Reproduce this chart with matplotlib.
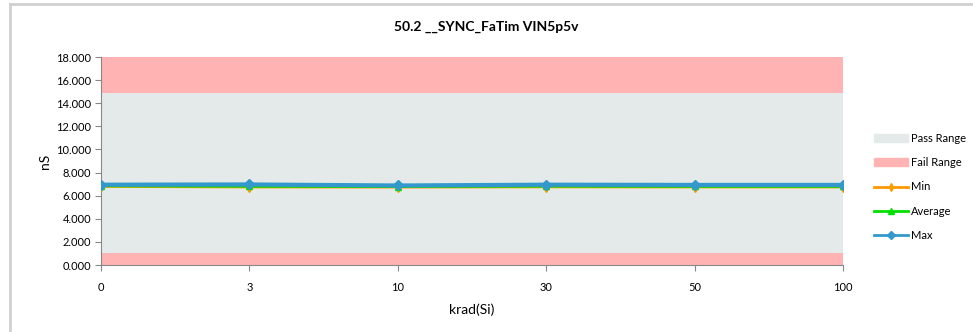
import matplotlib.pyplot as plt
from matplotlib.patches import Patch
from matplotlib.lines import Line2D

plt.rcParams['font.family'] = ['Lato', 'DejaVu Sans']

doses = ['0', '3', '10', '30', '50', '100']
min_vals = [6.80, 6.75, 6.74, 6.76, 6.75, 6.75]
avg_vals = [6.85, 6.81, 6.79, 6.82, 6.80, 6.80]
max_vals = [6.95, 6.97, 6.88, 6.95, 6.93, 6.93]
fail_low = 1.0
fail_high = 14.85
y_top = 18.0

pass_color = '#e4eaea'
fail_color = '#ffb3b3'

fig = plt.figure(figsize=(9.73, 3.32), dpi=100)
ax = fig.add_axes([101 / 973, 1 - 265 / 332, 742 / 973, 208 / 332])

# background bands
ax.axhspan(0, fail_low, color=fail_color, lw=0)
ax.axhspan(fail_low, fail_high, color=pass_color, lw=0)
ax.axhspan(fail_high, y_top, color=fail_color, lw=0)

x = range(len(doses))
ax.plot(x, min_vals, color='#ff9900', lw=2, marker='d', ms=5, zorder=3)
ax.plot(x, avg_vals, color='#00e000', lw=2, marker='^', ms=5, zorder=4)
ax.plot(x, max_vals, color='#3399cc', lw=3, marker='D', ms=5, zorder=5)

ax.set_xlim(0, len(doses) - 1)
ax.set_ylim(0, y_top)
ax.set_xticks(list(x))
ax.set_xticklabels(doses)
ax.set_yticks([i * 2 for i in range(10)])
ax.set_yticklabels(['%.3f' % (i * 2) for i in range(10)])
ax.tick_params(labelsize=8, color='#888888', length=4, pad=3)
ax.tick_params(axis='x', pad=8)
for side in ['top', 'right']:
    ax.spines[side].set_visible(False)
for side in ['left', 'bottom']:
    ax.spines[side].set_color('#888888')

ax.set_xlabel('krad(Si)', fontsize=10, labelpad=8)
ax.set_ylabel('nS', fontsize=10, labelpad=4)
fig.text(0.5, 1 - 27 / 332, '50.2 __SYNC_FaTim VIN5p5v', ha='center', va='center',
         fontsize=10, fontweight='bold')

handles = [
    Patch(color=pass_color, label='Pass Range'),
    Patch(color=fail_color, label='Fail Range'),
    Line2D([], [], color='#ff9900', lw=2, marker='d', ms=4, label='Min'),
    Line2D([], [], color='#00e000', lw=2, marker='^', ms=4, label='Average'),
    Line2D([], [], color='#3399cc', lw=2, marker='D', ms=4, label='Max'),
]
fig.legend(handles=handles, loc='center left', bbox_to_anchor=(870 / 973, 1 - 187 / 332),
           frameon=False, fontsize=8, handlelength=3, handletextpad=0.3,
           labelspacing=1.2, borderaxespad=0)

# chart border like the spreadsheet frame
fig.add_artist(Line2D([10 / 973, 10 / 973], [0, 1 - 4 / 332], color='#d0d0d0', lw=2,
                      transform=fig.transFigure))
fig.add_artist(Line2D([10 / 973, 1], [1 - 4 / 332, 1 - 4 / 332], color='#d0d0d0', lw=2,
                      transform=fig.transFigure))

fig.savefig('out.png', dpi=100)
